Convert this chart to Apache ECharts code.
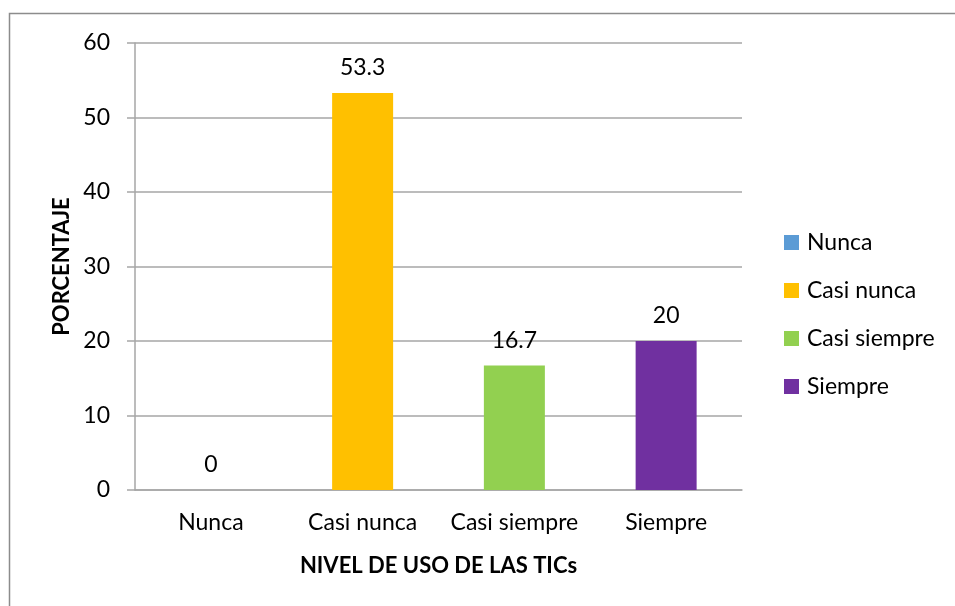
<!DOCTYPE html>
<html>
<head>
<meta charset="utf-8">
<script src="https://cdn.jsdelivr.net/npm/echarts@6/dist/echarts.min.js"></script>
<style>
html, body { margin: 0; padding: 0; background: #fff; }
#chart { width: 955px; height: 606px; }
</style>
</head>
<body>
<div id="chart"></div>
<script>
var categories = ['Nunca', 'Casi nunca', 'Casi siempre', 'Siempre'];
var values = [0, 53.3, 16.7, 20];
var colors = ['#5b9bd5', '#ffc000', '#92d050', '#7030a0'];
var yTicks = [0, 10, 20, 30, 40, 50, 60];

var fontFam = 'Lato';
var dom = document.getElementById('chart');
var myChart = echarts.init(dom);

var series = categories.map(function (name, i) {
	return {
		name: name,
		type: 'bar',
		stack: 'nivel',
		barWidth: 61,
		itemStyle: { color: colors[i] },
		label: {
			show: true,
			position: 'top',
			distance: 14,
			color: '#000',
			fontSize: 23,
			fontFamily: fontFam
		},
		data: categories.map(function (c, j) { return j === i ? values[i] : '-'; })
	};
});

var option = {
	animation: false,
	backgroundColor: '#fff',
	graphic: [{
		type: 'rect',
		shape: { x: 9.5, y: 13.5, width: 1000, height: 700 },
		style: { fill: 'none', stroke: '#8c8c8c', lineWidth: 1.5 }
	}],
	grid: { left: 135, right: 213, top: 43, bottom: 116 },
	legend: {
		orient: 'vertical',
		left: 779,
		top: 226,
		itemWidth: 15,
		itemHeight: 15,
		itemGap: 25,
		icon: 'rect',
		data: categories,
		textStyle: { color: '#000', fontSize: 23, fontFamily: fontFam, padding: [0, 0, 0, 3] }
	},
	xAxis: {
		type: 'category',
		data: categories,
		name: 'NIVEL DE USO DE LAS TICs',
		nameLocation: 'middle',
		nameGap: 65,
		nameTextStyle: { color: '#000', fontSize: 22, fontWeight: 'bold', fontFamily: fontFam },
		axisLine: { show: true, lineStyle: { color: '#a6a6a6', width: 1.5 } },
		axisTick: { show: false },
		axisLabel: { interval: 0, color: '#000', fontSize: 23, fontFamily: fontFam, margin: 21 }
	},
	yAxis: {
		type: 'value',
		min: yTicks[0],
		max: yTicks[yTicks.length - 1],
		interval: 10,
		name: 'PORCENTAJE',
		nameLocation: 'middle',
		nameGap: 60,
		nameTextStyle: { color: '#000', fontSize: 22, fontWeight: 'bold', fontFamily: fontFam },
		axisLine: { show: true, lineStyle: { color: '#a6a6a6', width: 1.5 } },
		axisTick: { show: true, length: 8, lineStyle: { color: '#a6a6a6', width: 1.5 } },
		splitLine: { show: true, lineStyle: { color: '#a6a6a6', width: 1.5 } },
		axisLabel: { color: '#000', fontSize: 23, fontFamily: fontFam, margin: 25 }
	},
	series: series
};

myChart.setOption(option, true);
</script>
</body>
</html>
